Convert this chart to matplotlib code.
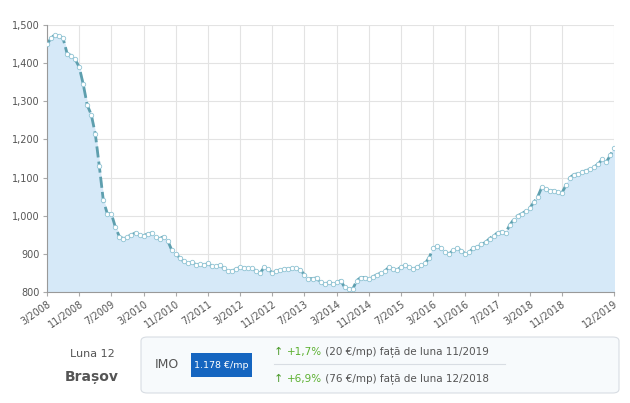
import matplotlib
matplotlib.use("Agg")
import matplotlib.pyplot as plt
from matplotlib.patches import FancyBboxPatch, Rectangle
import numpy as np

values = [
 1450,1465,1475,1470,1465,1425,1420,1410,1390,1345,
 1290,1265,1215,1130,1040,1005,1005,970,945,940,945,950,
 955,950,948,952,955,945,940,945,935,910,900,890,
 880,875,878,872,873,870,875,868,868,870,862,855,
 855,860,865,863,862,862,855,850,865,860,850,855,
 858,860,860,862,862,858,845,835,835,837,825,820,
 825,822,825,830,812,808,808,830,838,838,835,840,
 845,850,855,865,860,858,865,870,865,860,865,870,
 875,890,915,920,915,905,900,910,915,908,900,905,
 915,918,925,930,940,948,955,958,955,975,990,1000,
 1005,1012,1020,1035,1050,1075,1070,1065,1065,1062,1060,1080,
 1100,1108,1110,1115,1118,1122,1128,1135,1148,1140,1158,1178]
tick_idx = [0,8,16,24,32,40,48,56,64,72,80,88,96,104,112,120,128,141]
tick_labels = ["3/2008","11/2008","7/2009","3/2010","11/2010","7/2011","3/2012","11/2012",
               "7/2013","3/2014","11/2014","7/2015","3/2016","11/2016","7/2017","3/2018","11/2018","12/2019"]
yticks = [800,900,1000,1100,1200,1300,1400,1500]

fig = plt.figure(figsize=(6.3,4.03), dpi=100)
ax = fig.add_axes([0.0746,0.2754,0.9004,0.6626])
x = np.arange(len(values))
ax.fill_between(x, values, 800, color="#d6e9f8", zorder=1)
ax.plot(x, values, color="#5e9fae", lw=2, ls=(0,(4,1.5)), zorder=2)
ax.plot(x, values, ls="none", marker="o", ms=3.2, mfc="white", mec="#8fc3d3", mew=0.6, zorder=3)
ax.set_xlim(0,141); ax.set_ylim(800,1500)
ax.set_xticks(tick_idx)
ax.set_xticklabels(tick_labels, rotation=35, ha="right", fontsize=7, color="#555", rotation_mode="anchor")
ax.set_yticks(yticks)
ax.set_yticklabels([f"{v:,}" for v in yticks], fontsize=7, color="#555")
ax.grid(True, color="#e3e3e3", lw=0.8)
ax.tick_params(length=3, color="#aaa", pad=2)
for s in ["top","right"]: ax.spines[s].set_visible(False)
for s in ["left","bottom"]: ax.spines[s].set_color("#999")
ax.set_axisbelow(True)

fig.text(92/630, 1-354/403, "Luna 12", fontsize=8, color="#555", ha="center", va="center")
fig.text(92/630, 1-377/403, "Brașov", fontsize=10, color="#555", ha="center", va="center", fontweight="bold")
box = FancyBboxPatch((141/630, 1-393/403), 478/630, 56/403, boxstyle="round,pad=0,rounding_size=0.01",
                     transform=fig.transFigure, fc="#f7fafc", ec="#d8dde3", lw=0.8)
fig.patches.append(box)
fig.text(155/630, 1-365/403, "IMO", fontsize=9, color="#555", va="center")
fig.patches.append(Rectangle((191/630,1-377/403),61/630,24/403, transform=fig.transFigure, fc="#1565c0", ec="none"))
fig.text(221.5/630, 1-365/403, "1.178 €/mp", fontsize=6.8, color="white", ha="center", va="center")
fig.lines.append(plt.Line2D([274/630,505/630],[1-364/403]*2, transform=fig.transFigure, color="#d8dde3", lw=0.8))
for yy, pct, rest in [(352,"+1,7%"," (20 €/mp) față de luna 11/2019"),(379,"+6,9%"," (76 €/mp) față de luna 12/2018")]:
    fig.text(274/630, 1-yy/403, "↑", fontsize=8, color="#4a9a2a", va="center")
    t = fig.text(287/630, 1-yy/403, pct, fontsize=7.5, color="#5cb030", va="center")
    fig.canvas.draw()
    bb = t.get_window_extent()
    fig.text(bb.x1/630, 1-yy/403, rest, fontsize=7.5, color="#555", va="center")
fig.savefig("out.png", dpi=100)
